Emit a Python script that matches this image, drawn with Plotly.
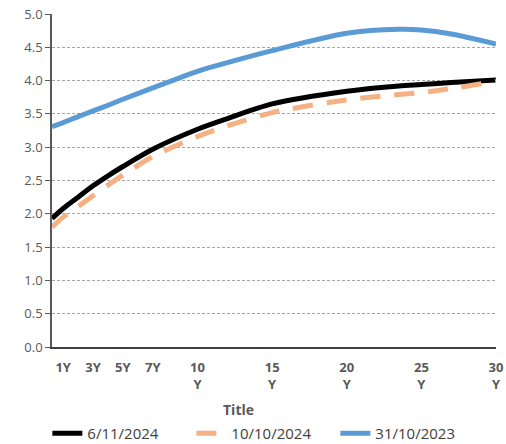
import plotly.graph_objects as go

# Tenors in years (3M at the left edge of the axis)
tenor_years = [0.25, 1, 2, 3, 4, 5, 7, 10, 12, 15, 20, 23.5, 25, 27, 30]

curve_2024_11_06 = [1.93, 2.08, 2.25, 2.42, 2.57, 2.71, 2.97, 3.27, 3.43, 3.65, 3.84, 3.92, 3.94, 3.97, 4.01]
curve_2024_10_10 = [1.80, 1.95, 2.11, 2.27, 2.43, 2.58, 2.86, 3.16, 3.32, 3.52, 3.71, 3.79, 3.82, 3.88, 3.99]
curve_2023_10_31 = [3.31, 3.37, 3.46, 3.545, 3.63, 3.72, 3.89, 4.14, 4.27, 4.45, 4.71, 4.77, 4.76, 4.70, 4.55]

series_names = ["6/11/2024", "10/10/2024", "31/10/2023"]

tick_vals = [1, 3, 5, 7, 10, 15, 20, 25, 30]
tick_text = ["1Y", "3Y", "5Y", "7Y", "10<br>Y", "15<br>Y", "20<br>Y", "25<br>Y", "30<br>Y"]

y_ticks = [0.0, 0.5, 1.0, 1.5, 2.0, 2.5, 3.0, 3.5, 4.0, 4.5, 5.0]

font_family = "Open Sans, Noto Sans, Liberation Sans, sans-serif"
label_color = "#595959"

fig = go.Figure()
fig.add_trace(go.Scatter(
    x=tenor_years, y=curve_2024_11_06, name=series_names[0], mode="lines",
    line=dict(color="#000000", width=5, shape="spline", smoothing=0.8),
))
fig.add_trace(go.Scatter(
    x=tenor_years, y=curve_2024_10_10, name=series_names[1], mode="lines",
    line=dict(color="#F4B183", width=5, dash="20px,14px", shape="spline", smoothing=0.8),
))
fig.add_trace(go.Scatter(
    x=tenor_years, y=curve_2023_10_31, name=series_names[2], mode="lines",
    line=dict(color="#5B9BD5", width=5, shape="spline", smoothing=0.8),
))

fig.update_layout(
    width=506, height=444,
    margin=dict(l=52, r=10, t=14, b=97, autoexpand=False),
    paper_bgcolor="white", plot_bgcolor="white",
    font=dict(family=font_family, size=12, color=label_color),
    showlegend=True,
    legend=dict(
        orientation="h", x=0.476, xanchor="center", y=-0.21, yanchor="top",
        font=dict(size=15, color="#404040"), traceorder="normal",
        itemwidth=30, entrywidth=99, tracegroupgap=0,
    ),
    annotations=[dict(
        text="<b>Title</b>", x=0.421, y=-0.152, xref="paper", yref="paper",
        xanchor="center", yanchor="top", showarrow=False,
        font=dict(size=14, color=label_color),
    )],
)

fig.update_xaxes(
    range=[0.25, 30], tickmode="array", tickvals=tick_vals, ticktext=tick_text,
    tickfont=dict(size=13, color=label_color, family=font_family, weight="bold"),
    showgrid=False, zeroline=False,
    showline=True, linecolor="#404040", linewidth=1.5, ticks="", ticklabelstandoff=8,
)
fig.update_yaxes(
    range=[0, 5], tickmode="array", tickvals=y_ticks,
    ticktext=[f"{v:.1f}" for v in y_ticks],
    tickfont=dict(size=13, color=label_color),
    showgrid=True, gridcolor="#A6A6A6", gridwidth=1, griddash="3px,2px",
    zeroline=False, showline=True, linecolor="#595959", linewidth=1.5,
    ticks="outside", ticklen=5, tickcolor="#595959",
)

fig.write_html("out.html")
